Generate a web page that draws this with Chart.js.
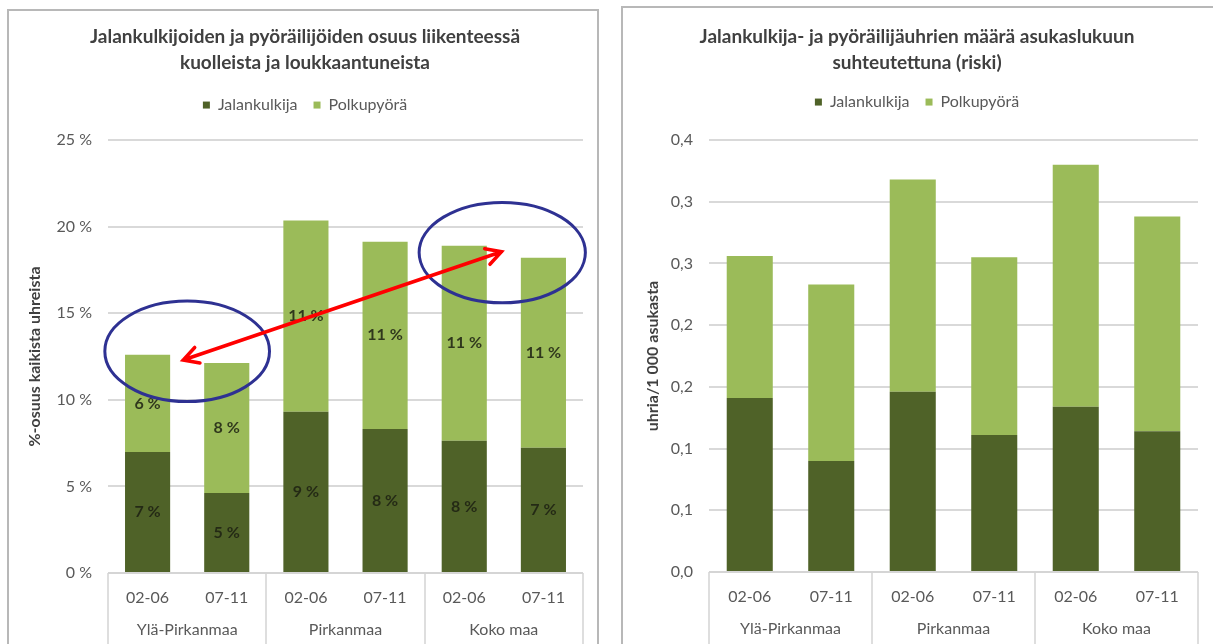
<!DOCTYPE html>
<html lang="fi">
<head>
<meta charset="utf-8">
<title>Jalankulkijat ja pyöräilijät</title>
<script src="https://cdn.jsdelivr.net/npm/chart.js@4.4.1/dist/chart.umd.min.js"></script>
<style>
  html, body { margin: 0; padding: 0; background: #fff; }
  body { width: 1213px; height: 644px; position: relative; overflow: hidden; }
  .frame { position: absolute; box-sizing: border-box; border: 2px solid #b8b8b8; border-bottom: none; }
  #frameL { left: 7px; top: 9px; width: 592px; height: 640px; }
  #frameR { left: 621px; top: 6px; width: 600px; height: 640px; border-right: none; }
  .wrap { position: absolute; top: 0; height: 644px; }
  #wrapL { left: 27px; width: 573px; }
  #wrapR { left: 636px; width: 577px; }
</style>
</head>
<body>
<div class="frame" id="frameL"></div>
<div class="frame" id="frameR"></div>
<div class="wrap" id="wrapL"><canvas id="osuusKaavio"></canvas></div>
<div class="wrap" id="wrapR"><canvas id="riskiKaavio"></canvas></div>

<script>
// Aineisto (luettu kuvasta)
const kaudet = ["02-06", "07-11", "02-06", "07-11", "02-06", "07-11"];
const alueet = ["Ylä-Pirkanmaa", "Pirkanmaa", "Koko maa"];

// %-osuus kaikista uhreista
const osuusJalankulkija = [6.99, 4.62, 9.31, 8.32, 7.63, 7.23];
const osuusPolkupyora = [5.61, 7.51, 11.04, 10.81, 11.27, 10.98];

// uhria / 1 000 asukasta
const riskiJalankulkija = [0.141, 0.090, 0.146, 0.111, 0.134, 0.114];
const riskiPolkupyora = [0.115, 0.143, 0.172, 0.144, 0.196, 0.174];
const riskiTickLabels = ["0,0", "0,1", "0,1", "0,2", "0,2", "0,3", "0,3", "0,4"];

// korostukset vasemmassa kaaviossa (kategoria-indeksi, %-arvo)
const korostukset = [
  { x: 0.5, y: 12.8, rx: 1.04, ry: 2.9 },
  { x: 4.48, y: 18.5, rx: 1.05, ry: 2.9 },
];
const nuoli = { x1: 0.45, y1: 12.3, x2: 4.47, y2: 18.55 };

const FONT = "Lato, 'Open Sans', sans-serif";
const TUMMA = "#4f6228";
const VAALEA = "#9bbb59";
const TEKSTI = "#595959";
const OTSIKKO = "#404040";

// arvomerkinnät pinottujen palkkien keskelle
const arvoMerkinnat = {
  id: "arvoMerkinnat",
  afterDatasetsDraw(chart) {
    const ctx = chart.ctx;
    ctx.save();
    ctx.font = "bold 16px " + FONT;
    ctx.fillStyle = "rgba(28,32,18,0.85)";
    ctx.textAlign = "center";
    ctx.textBaseline = "middle";
    chart.data.datasets.forEach((ds, di) => {
      chart.getDatasetMeta(di).data.forEach((el, i) => {
        const { x, y, base } = el.getProps(["x", "y", "base"], true);
        ctx.fillText(Math.round(ds.data[i]) + " %", x, (y + base) / 2);
      });
    });
    ctx.restore();
  },
};

// ympyrät ja nuoli
const korostusPiirto = {
  id: "korostusPiirto",
  afterDatasetsDraw(chart) {
    const { ctx, scales: { x, y } } = chart;
    const cw = x.getPixelForValue(1) - x.getPixelForValue(0);
    const uh = y.getPixelForValue(0) - y.getPixelForValue(1);
    ctx.save();
    ctx.strokeStyle = "#2e3192";
    ctx.lineWidth = 3;
    korostukset.forEach((k) => {
      ctx.beginPath();
      ctx.ellipse(x.getPixelForValue(k.x), y.getPixelForValue(k.y), k.rx * cw, k.ry * uh, 0, 0, Math.PI * 2);
      ctx.stroke();
    });

    const ax = x.getPixelForValue(nuoli.x1), ay = y.getPixelForValue(nuoli.y1);
    const bx = x.getPixelForValue(nuoli.x2), by = y.getPixelForValue(nuoli.y2);
    ctx.strokeStyle = "#ff0000";
    ctx.lineWidth = 3.5;
    ctx.lineCap = "round";
    ctx.beginPath();
    ctx.moveTo(ax, ay);
    ctx.lineTo(bx, by);
    const karki = (px, py, ang) => {
      const l = 17, a = 0.5;
      ctx.moveTo(px + l * Math.cos(ang - a), py + l * Math.sin(ang - a));
      ctx.lineTo(px, py);
      ctx.lineTo(px + l * Math.cos(ang + a), py + l * Math.sin(ang + a));
    };
    const kulma = Math.atan2(by - ay, bx - ax);
    karki(ax, ay, kulma);
    karki(bx, by, kulma + Math.PI);
    ctx.stroke();
    ctx.restore();
  },
};

// kaksitasoinen x-akseli: alueiden nimet ja erotinviivat
const ryhmaAkseli = {
  id: "ryhmaAkseli",
  afterDraw(chart) {
    const { ctx, chartArea, scales: { x } } = chart;
    const perRyhma = kaudet.length / alueet.length;
    ctx.save();
    ctx.strokeStyle = "#d4d4d4";
    ctx.lineWidth = 1.5;
    ctx.beginPath();
    ctx.moveTo(chartArea.left, chartArea.bottom);
    ctx.lineTo(chartArea.right, chartArea.bottom);
    for (let g = 0; g <= alueet.length; g++) {
      const px = Math.round(x.getPixelForValue(g * perRyhma - 0.5));
      ctx.moveTo(px, chartArea.bottom);
      ctx.lineTo(px, chart.height);
    }
    ctx.stroke();
    ctx.font = "16px " + FONT;
    ctx.fillStyle = TEKSTI;
    ctx.textAlign = "center";
    ctx.textBaseline = "middle";
    alueet.forEach((a, g) => {
      ctx.fillText(a, x.getPixelForValue(g * perRyhma + (perRyhma - 1) / 2), chartArea.bottom + 57);
    });
    ctx.restore();
  },
};

function teeOptiot({ otsikko, padTop, padBottom, vali, oikea, y, xKorkeus }) {
  return {
    responsive: true,
    maintainAspectRatio: false,
    animation: false,
    layout: { padding: { left: 0, right: oikea, top: 0, bottom: 0 } },
    plugins: {
      title: {
        display: true,
        text: otsikko,
        color: OTSIKKO,
        font: { family: FONT, size: 19, weight: "bold", lineHeight: 1.37 },
        padding: { top: padTop, bottom: padBottom },
      },
      legend: {
        display: true,
        labels: {
          color: TEKSTI,
          font: { family: FONT, size: 16 },
          boxWidth: 7,
          boxHeight: 7,
          padding: 16,
        },
      },
      subtitle: {
        display: true,
        text: "",
        weight: 500,
        font: { size: 1, lineHeight: 1 },
        padding: { top: 0, bottom: vali },
      },
      tooltip: { enabled: false },
    },
    scales: {
      x: {
        stacked: true,
        grid: { display: false },
        border: { display: false },
        ticks: { color: TEKSTI, font: { family: FONT, size: 16 }, padding: 7, maxRotation: 0, autoSkip: false },
        afterFit: (s) => { s.height = xKorkeus; },
      },
      y,
    },
  };
}

new Chart(document.getElementById("osuusKaavio"), {
  type: "bar",
  data: {
    labels: kaudet,
    datasets: [
      { label: "Jalankulkija", data: osuusJalankulkija, backgroundColor: TUMMA, categoryPercentage: 1, barPercentage: 0.57 },
      { label: "Polkupyörä", data: osuusPolkupyora, backgroundColor: VAALEA, categoryPercentage: 1, barPercentage: 0.57 },
    ],
  },
  options: teeOptiot({
    otsikko: ["Jalankulkijoiden ja pyöräilijöiden osuus liikenteessä", "kuolleista ja loukkaantuneista"],
    padTop: 24,
    padBottom: 5,
    vali: 16,
    oikea: 17,
    xKorkeus: 71,
    y: {
      stacked: true,
      min: 0,
      max: 25,
      ticks: { stepSize: 5, padding: 16, color: TEKSTI, font: { family: FONT, size: 16 }, callback: (v) => v + " %" },
      grid: { color: "#d9d9d9", lineWidth: 2, drawTicks: false },
      border: { display: false },
      title: {
        display: true,
        text: "%-osuus kaikista uhreista",
        color: OTSIKKO,
        font: { family: FONT, size: 16, weight: "bold", lineHeight: 1 },
        padding: { top: 0, bottom: 0 },
      },
      afterFit: (s) => { s.width = 81; },
    },
  }),
  plugins: [ryhmaAkseli, arvoMerkinnat, korostusPiirto],
});

new Chart(document.getElementById("riskiKaavio"), {
  type: "bar",
  data: {
    labels: kaudet,
    datasets: [
      { label: "Jalankulkija", data: riskiJalankulkija, backgroundColor: TUMMA, categoryPercentage: 1, barPercentage: 0.565 },
      { label: "Polkupyörä", data: riskiPolkupyora, backgroundColor: VAALEA, categoryPercentage: 1, barPercentage: 0.565 },
    ],
  },
  options: teeOptiot({
    otsikko: ["Jalankulkija- ja pyöräilijäuhrien määrä asukaslukuun", "suhteutettuna (riski)"],
    padTop: 24,
    padBottom: 2,
    vali: 19,
    oikea: 15,
    xKorkeus: 72,
    y: {
      stacked: true,
      min: 0,
      max: 0.35,
      ticks: { stepSize: 0.05, padding: 16, color: TEKSTI, font: { family: FONT, size: 16 }, callback: (v, i) => riskiTickLabels[i] },
      grid: { color: "#d9d9d9", lineWidth: 2, drawTicks: false },
      border: { display: false },
      title: {
        display: true,
        text: "uhria/1 000 asukasta",
        color: OTSIKKO,
        font: { family: FONT, size: 16, weight: "bold", lineHeight: 1 },
        padding: { top: 9, bottom: 0 },
      },
      afterFit: (s) => { s.width = 73; },
    },
  }),
  plugins: [ryhmaAkseli],
});
</script>
</body>
</html>
